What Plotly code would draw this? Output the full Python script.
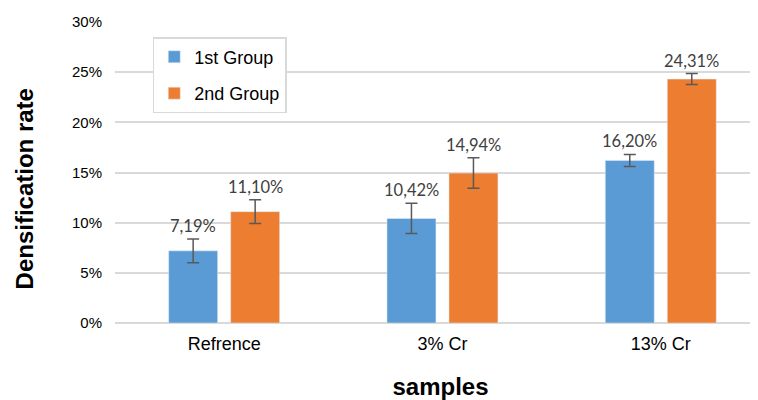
import plotly.graph_objects as go

categories = ["Refrence", "3% Cr", "13% Cr"]
group1 = [7.19, 10.42, 16.20]
group2 = [11.10, 14.94, 24.31]
err1 = [1.18, 1.51, 0.60]
err2 = [1.18, 1.52, 0.55]
labels1 = ["7,19%", "10,42%", "16,20%"]
labels2 = ["11,10%", "14,94%", "24,31%"]
yticks = [0, 5, 10, 15, 20, 25, 30]
yticklabels = ["0%", "5%", "10%", "15%", "20%", "25%", "30%"]

BLUE = "#5B9BD5"
ORANGE = "#ED7D31"
ERRC = "#595959"
bargap = 0.432
bargroupgap = 0.21

fig = go.Figure()
fig.add_trace(go.Bar(
    x=categories, y=group1, name="1st Group", marker_color=BLUE,
    legendgroup="g1",
    error_y=dict(type="data", array=err1, color=ERRC, thickness=1.5, width=6),
))
fig.add_trace(go.Bar(
    x=categories, y=group2, name="2nd Group", marker_color=ORANGE,
    legendgroup="g2",
    error_y=dict(type="data", array=err2, color=ERRC, thickness=1.5, width=6),
))

off = (1 - bargap) / 4.0
annotations = []
for i in range(len(categories)):
    for vals, errs, labs, sgn in ((group1, err1, labels1, -1), (group2, err2, labels2, 1)):
        annotations.append(dict(
            x=i + sgn * off, y=vals[i] + errs[i], xref="x", yref="y",
            text=labs[i], showarrow=False, xanchor="center", yanchor="bottom",
            yshift=1, font=dict(family="Lato, Open Sans, sans-serif", size=16.5, color="#404040"),
        ))

annotations.append(dict(
    x=-0.1398, y=0.447, xref="paper", yref="paper", text="<b>Densification rate</b>",
    textangle=-90, showarrow=False, xanchor="center", yanchor="middle",
    font=dict(family="Liberation Sans, Arial, sans-serif", size=24, color="#000000"),
))

fig.update_layout(
    width=758, height=400,
    margin=dict(l=107, r=0, t=14, b=85),
    paper_bgcolor="white", plot_bgcolor="white",
    barmode="group", bargap=bargap, bargroupgap=bargroupgap,
    font=dict(family="Liberation Sans, Arial, sans-serif", color="#595959"),
    legend=dict(
        x=0.058, y=0.95, xanchor="left", yanchor="top",
        bgcolor="white", bordercolor="#d9d9d9", borderwidth=1.5,
        font=dict(family="Liberation Sans, Arial, sans-serif", size=18, color="#000000"),
        traceorder="grouped", tracegroupgap=10,
    ),
    annotations=annotations,
    showlegend=True,
)
fig.update_xaxes(
    range=[-0.5, 2.482], showgrid=False, showline=False, zeroline=False,
    tickfont=dict(size=18, color="#000000"), ticks="", ticklabelstandoff=8,
    title=dict(text="<b>samples</b>", font=dict(size=24, color="#000000"), standoff=25),
)
fig.update_yaxes(
    range=[0, 30], tickvals=yticks, ticktext=yticklabels,
    showgrid=True, gridcolor="#d9d9d9", gridwidth=1.5,
    zeroline=True, zerolinecolor="#d9d9d9", zerolinewidth=2,
    tickfont=dict(size=15, color="#000000"), ticks="", ticklabelstandoff=12,
)

fig.write_html("out.html")
